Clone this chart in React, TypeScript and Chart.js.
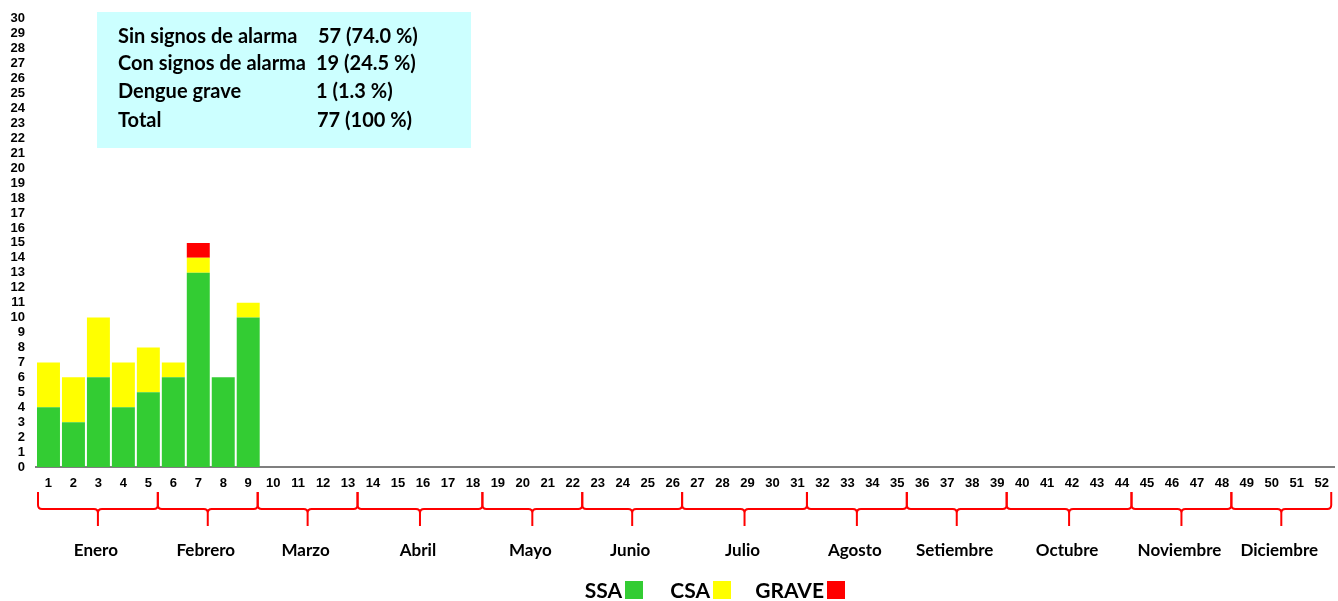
import React, { useEffect, useRef } from "react";
import { Chart, registerables } from "chart.js";
Chart.register(...registerables);

const weekLabels = [
  "1","2","3","4","5","6","7","8","9","10","11","12","13","14","15","16","17","18","19","20","21","22","23","24","25","26",
  "27","28","29","30","31","32","33","34","35","36","37","38","39","40","41","42","43","44","45","46","47","48","49","50","51","52",
];
const ssaValues = [4, 3, 6, 4, 5, 6, 13, 6, 10];
const csaValues = [3, 3, 4, 3, 3, 1, 1, 0, 1];
const graveValues = [0, 0, 0, 0, 0, 0, 1, 0, 0];

const monthNames = ["Enero","Febrero","Marzo","Abril","Mayo","Junio","Julio","Agosto","Setiembre","Octubre","Noviembre","Diciembre"];
const monthLastWeek = [5, 9, 13, 18, 22, 26, 31, 35, 39, 44, 48, 52];

const summaryLabels = ["Sin signos de alarma", "Con signos de alarma", "Dengue grave", "Total"];
const summaryValues = ["57 (74.0 %)", "19 (24.5 %)", "1 (1.3 %)", "77 (100 %)"];

const legendLabels = ["SSA", "CSA", "GRAVE"];
const seriesColors = ["#33CC33", "#FFFF00", "#FF0000"];

const CALIBRI = "Lato, 'Open Sans', sans-serif";
const ARIAL = "'Liberation Sans', Arial, sans-serif";

const overlayPlugin = {
  id: "overlay",
  afterDraw(chart: any) {
    const ctx = chart.ctx as CanvasRenderingContext2D;
    const xs = chart.scales.x;
    const half = (xs.getPixelForValue(1) - xs.getPixelForValue(0)) / 2;
    ctx.save();

    // Summary box
    ctx.fillStyle = "#CCFFFF";
    ctx.fillRect(97, 12, 374, 136);
    ctx.fillStyle = "#000";
    ctx.font = `bold 20px ${CALIBRI}`;
    ctx.textBaseline = "middle";
    ctx.textAlign = "left";
    const rowsY = [37, 64, 92, 121];
    const col2X = [318, 316, 316, 317];
    summaryLabels.forEach((l, i) => {
      ctx.fillText(l, 118, rowsY[i]);
      ctx.fillText(summaryValues[i], col2X[i], rowsY[i]);
    });

    // Braces and month labels
    ctx.strokeStyle = "#FF0000";
    ctx.lineWidth = 2;
    ctx.lineJoin = "round";
    const yTop = 492, yMid = 509, yBot = 526, r = 4;
    let startIdx = 0;
    monthLastWeek.forEach((last, i) => {
      let x0 = xs.getPixelForValue(startIdx) - half - 3;
      if (i === 0) x0 += 5;
      const x1 = xs.getPixelForValue(last - 1) + half - 3;
      const xm = (x0 + x1) / 2;
      ctx.beginPath();
      ctx.moveTo(x0, yTop);
      ctx.lineTo(x0, yMid - r);
      ctx.quadraticCurveTo(x0, yMid, x0 + r, yMid);
      ctx.lineTo(xm - r, yMid);
      ctx.quadraticCurveTo(xm, yMid, xm, yMid + r);
      ctx.lineTo(xm, yBot);
      ctx.moveTo(xm, yMid + r);
      ctx.quadraticCurveTo(xm, yMid, xm + r, yMid);
      ctx.lineTo(x1 - r, yMid);
      ctx.quadraticCurveTo(x1, yMid, x1, yMid - r);
      ctx.lineTo(x1, yTop);
      ctx.stroke();

      ctx.fillStyle = "#000";
      ctx.font = `bold 17px ${CALIBRI}`;
      ctx.textAlign = "center";
      ctx.textBaseline = "middle";
      ctx.fillText(monthNames[i], xm - 2, 551);
      startIdx = last;
    });

    // Legend
    const boxX = [625, 713, 827];
    ctx.font = `bold 21px ${CALIBRI}`;
    ctx.textAlign = "right";
    ctx.textBaseline = "middle";
    legendLabels.forEach((l, i) => {
      ctx.fillStyle = "#000";
      ctx.fillText(l, boxX[i] - 3, 591);
      ctx.fillStyle = seriesColors[i];
      ctx.fillRect(boxX[i], 581, 18, 18);
    });
    ctx.restore();
  },
};

export default function App() {
  const ref = useRef<HTMLCanvasElement>(null);
  useEffect(() => {
    document.body.style.margin = "0";
    const chart = new Chart(ref.current!, {
      type: "bar",
      data: {
        labels: weekLabels,
        datasets: [
          { label: legendLabels[0], data: ssaValues, backgroundColor: seriesColors[0] },
          { label: legendLabels[1], data: csaValues, backgroundColor: seriesColors[1] },
          { label: legendLabels[2], data: graveValues, backgroundColor: seriesColors[2] },
        ],
      },
      options: {
        animation: false,
        responsive: false,
        devicePixelRatio: 1,
        layout: { padding: { top: 15, right: 2, left: 0, bottom: 0 } },
        datasets: { bar: { barPercentage: 0.92, categoryPercentage: 1 } },
        plugins: { legend: { display: false }, tooltip: { enabled: false }, title: { display: false } },
        scales: {
          x: {
            stacked: true,
            grid: { display: false, drawTicks: false },
            border: { display: true, color: "#7F7F7F", width: 2 },
            ticks: { autoSkip: false, maxRotation: 0, color: "#000", padding: 9, font: { family: ARIAL, size: 13, weight: "bold" } },
            afterFit: (s: any) => { s.height = 134; },
          },
          y: {
            stacked: true,
            min: 0,
            max: 30,
            grid: { display: false, drawTicks: false },
            border: { display: false },
            ticks: { stepSize: 1, autoSkip: false, color: "#000", padding: 11, font: { family: ARIAL, size: 13, weight: "bold" } },
            afterFit: (s: any) => { s.width = 36; },
          },
        },
      },
      plugins: [overlayPlugin],
    });
    return () => chart.destroy();
  }, []);
  return (
    <div style={{ position: "absolute", left: 0, top: 0, width: 1338, height: 601, background: "#fff" }}>
      <canvas ref={ref} width={1338} height={601} />
    </div>
  );
}
